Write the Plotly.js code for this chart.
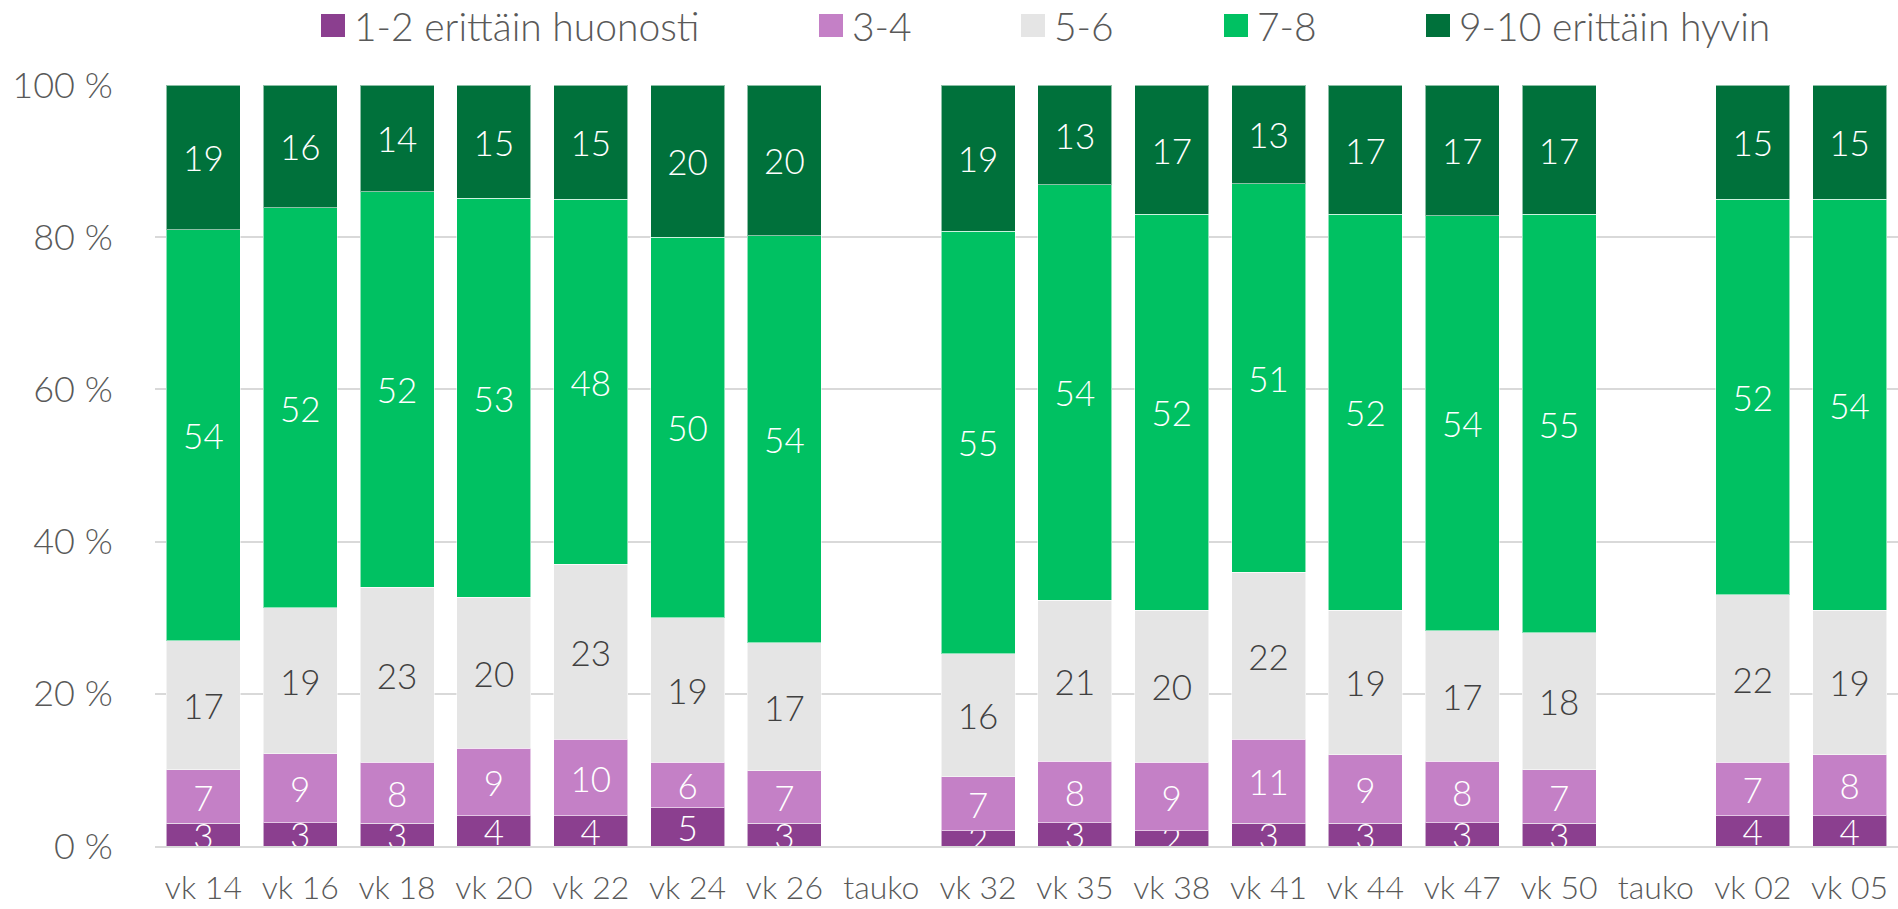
<!DOCTYPE html>
<html>
<head>
<meta charset="utf-8">
<script src="https://cdn.plot.ly/plotly-3.0.1.min.js"></script>
<style>
html,body{margin:0;padding:0;background:#fff;}
#chart{width:1898px;height:909px;}
</style>
</head>
<body>
<div id="chart"></div>
<script>
// ---- data ----
const categories = ['vk 14','vk 16','vk 18','vk 20','vk 22','vk 24','vk 26','tauko','vk 32','vk 35','vk 38','vk 41','vk 44','vk 47','vk 50','tauko','vk 02','vk 05'];
const seriesNames = ['1-2 erittäin huonosti','3-4','5-6','7-8','9-10 erittäin hyvin'];
const s1_2  = [3,3,3,4,4,5,3,null,2,3,2,3,3,3,3,null,4,4];
const s3_4  = [7,9,8,9,10,6,7,null,7,8,9,11,9,8,7,null,7,8];
const s5_6  = [17,19,23,20,23,19,17,null,16,21,20,22,19,17,18,null,22,19];
const s7_8  = [54,52,52,53,48,50,54,null,55,54,52,51,52,54,55,null,52,54];
const s9_10 = [19,16,14,15,15,20,20,null,19,13,17,13,17,17,17,null,15,15];
const yTickVals = [0,20,40,60,80,100];
const yTickText = yTickVals.map(v => v + ' %');

// ---- style ----
const W = 1898, H = 909;
const M = {l:155, r:0, t:85, b:63};
const colors = ['#8b3f8f','#c480c6','#e5e5e5','#00c162','#00713b'];
const textColors = ['#ffffff','#ffffff','#404040','#ffffff','#ffffff'];
const FONT = 'Lato, "Open Sans", sans-serif';
const series = [s1_2, s3_4, s5_6, s7_8, s9_10];
const xIdx = categories.map((c,i)=>i);

const traces = series.map((vals,k)=>({
  type:'bar',
  name: seriesNames[k],
  x: xIdx,
  y: vals,
  text: vals.map(v=> v==null ? '' : String(v)),
  texttemplate:'%{text}',
  textposition:'inside',
  insidetextanchor:'middle',
  constraintext:'none',
  textangle:0,
  textfont:{family:FONT, size:35, color:textColors[k], weight:300},
  marker:{color:colors[k], line:{color:'rgba(255,255,255,0.55)', width:1}},
  hoverinfo:'none',
  showlegend:false,
  cliponaxis:true
}));

// manual legend (pixel positions converted to paper coords)
const plotW = W - M.l - M.r, plotH = H - M.t - M.b;
const px2x = p => (p - M.l)/plotW;
const px2y = p => (H - M.b - p)/plotH;
const legendStarts = [321, 819, 1021, 1224, 1426];
const shapes = [], annotations = [];
seriesNames.forEach((n,k)=>{
  const x0 = legendStarts[k];
  shapes.push({type:'rect', xref:'paper', yref:'paper',
    x0:px2x(x0), x1:px2x(x0+24), y0:px2y(37), y1:px2y(14),
    fillcolor:colors[k], line:{width:0}});
  annotations.push({xref:'paper', yref:'paper', x:px2x(x0+31), y:px2y(25.5),
    xanchor:'left', yanchor:'middle', showarrow:false, text:n,
    font:{family:FONT, size:39, color:'#595959', weight:300}});
});

const layout = {
  width:W, height:H,
  margin:M,
  paper_bgcolor:'#fff', plot_bgcolor:'#fff',
  barmode:'stack',
  barnorm:'percent',
  bargap:0.235,
  showlegend:false,
  font:{family:FONT, color:'#595959', weight:300},
  xaxis:{
    range:[-0.5, categories.length-0.5],
    tickmode:'array', tickvals:xIdx, ticktext:categories,
    tickfont:{family:FONT, size:32, color:'#595959', weight:300},
    ticks:'outside', ticklen:13, tickcolor:'rgba(0,0,0,0)',
    showgrid:false, zeroline:false,
    showline:true, linecolor:'#d9d9d9', linewidth:2,
    fixedrange:true
  },
  yaxis:{
    range:[0,100],
    tickmode:'array', tickvals:yTickVals, ticktext:yTickText,
    tickfont:{family:FONT, size:36, color:'#595959', weight:300},
    ticks:'outside', ticklen:34, tickcolor:'rgba(0,0,0,0)',
    showgrid:true, gridcolor:'#d9d9d9', gridwidth:2,
    zeroline:false, showline:false,
    fixedrange:true
  },
  shapes: shapes,
  annotations: annotations
};

Plotly.newPlot('chart', traces, layout, {displayModeBar:false, staticPlot:true});
</script>
</body>
</html>
